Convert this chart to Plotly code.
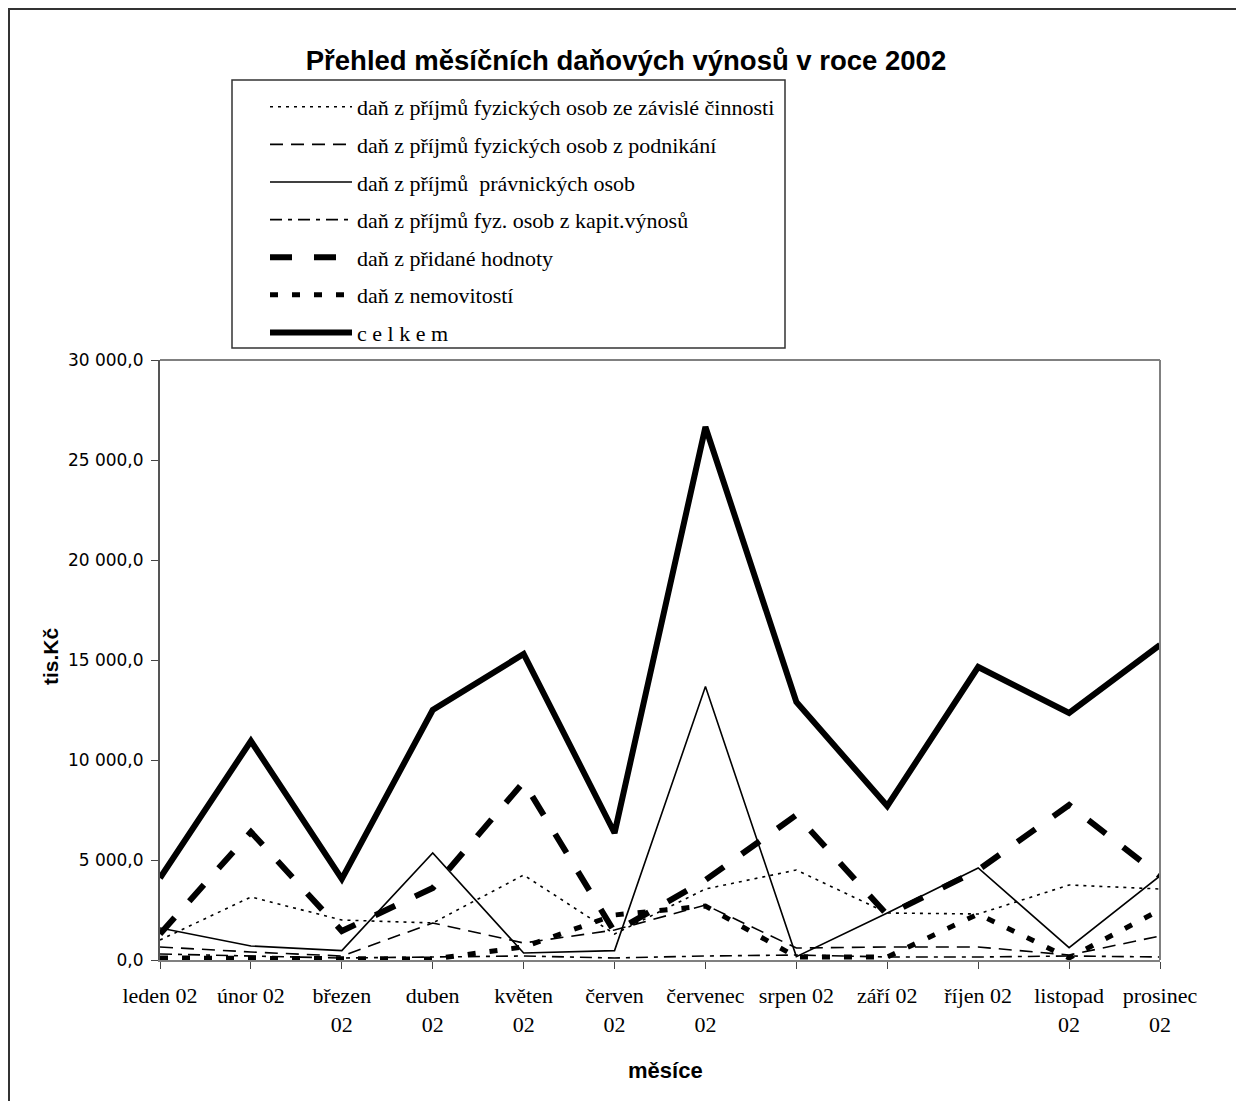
import plotly.graph_objects as go

months = ["leden 02", "únor 02", "březen<br>02", "duben<br>02", "květen<br>02", "červen<br>02",
          "červenec<br>02", "srpen 02", "září 02", "říjen 02", "listopad<br>02", "prosinec<br>02"]
month_keys = list(range(12))

zavisla = [1000, 3150, 2000, 1850, 4250, 1300, 3550, 4500, 2350, 2300, 3750, 3550]
podnikani = [650, 400, 200, 1850, 850, 1500, 2750, 600, 650, 650, 250, 1200]
pravnicke = [1600, 700, 470, 5350, 350, 470, 13670, 170, 2350, 4600, 620, 4200]
kapital = [300, 200, 100, 150, 200, 100, 200, 250, 150, 150, 200, 150]
dph = [1300, 6400, 1450, 3600, 8900, 1400, 4000, 7250, 2250, 4500, 7750, 4200]
nemovitosti = [100, 100, 50, 50, 650, 2250, 2700, 150, 150, 2300, 100, 2500]
celkem = [4100, 10950, 4050, 12500, 15300, 6350, 26650, 12900, 7700, 14650, 12350, 15750]

names = [
    "daň z příjmů fyzických osob ze závislé činnosti",
    "daň z příjmů fyzických osob z podnikání",
    "daň z příjmů  právnických osob",
    "daň z příjmů fyz. osob z kapit.výnosů",
    "daň z přidané hodnoty",
    "daň z nemovitostí",
    "c e l k e m",
]
series = [zavisla, podnikani, pravnicke, kapital, dph, nemovitosti, celkem]
styles = [
    dict(width=1.6, dash="3px,5px"),
    dict(width=1.6, dash="13px,8px"),
    dict(width=1.6, dash="solid"),
    dict(width=1.6, dash="12px,6px,4px,6px"),
    dict(width=6, dash="22px,22px"),
    dict(width=5, dash="8px,14px"),
    dict(width=6, dash="solid"),
]

# the page body has an 8px margin: the figure starts at screen (8, 8)
OFF = 8
W, H = 1244 - OFF, 1101 - OFF
PL, PR, PT, PB = 160, 1160, 360, 960  # plot area in screen px


def px(xs):
    return (xs - PL) / (PR - PL)


def py(ys):
    return (PB - ys) / (PB - PT)


fig = go.Figure()
for i, (nm, ys, st) in enumerate(zip(names, series, styles)):
    fig.add_trace(go.Scatter(
        x=month_keys, y=ys, name=nm, mode="lines",
        line=dict(color="black", width=st["width"], dash=st["dash"]),
        legendgroup=f"g{i}",
    ))

fig.update_layout(
    width=W, height=H,
    paper_bgcolor="white", plot_bgcolor="white",
    margin=dict(l=PL - OFF, r=W - (PR - OFF), t=PT - OFF, b=H - (PB - OFF)),
    separators=", ",
    title=dict(text="<b>Přehled měsíčních daňových výnosů v roce 2002</b>",
               x=(626 - OFF) / W, xref="container", xanchor="center",
               y=1 - (60 - OFF) / H, yref="container", yanchor="middle",
               font=dict(family="Liberation Sans, Arial", size=27.5, color="black")),
    showlegend=True,
    legend=dict(
        x=px(265), y=py(86), xanchor="left", yanchor="top",
        bgcolor="rgba(0,0,0,0)", borderwidth=0,
        font=dict(family="Liberation Serif, DejaVu Serif, serif", size=22, color="black"),
        tracegroupgap=6, itemwidth=82,
    ),
    xaxis=dict(
        type="linear", range=[0, 11], tickmode="array", tickvals=month_keys, ticktext=months,
        showgrid=False, zeroline=False, showline=True, linecolor="#808080", linewidth=2,
        ticks="outside", ticklen=7, tickcolor="#444", ticklabelstandoff=8,
        tickfont=dict(family="Liberation Serif, DejaVu Serif, serif", size=22, color="black"),
    ),
    yaxis=dict(
        range=[0, 30000], tickmode="linear", tick0=0, dtick=5000, tickformat=",.1f",
        showgrid=False, zeroline=False, showline=True, linecolor="#555", linewidth=2,
        ticks="outside", ticklen=7, tickcolor="#444", ticklabelstandoff=4,
        tickfont=dict(family="DejaVu Sans, Verdana", size=17, color="black"),
    ),
    annotations=[
        dict(text="<b>tis.Kč</b>", xref="paper", yref="paper", x=px(50), y=py(656),
             textangle=-90, showarrow=False, xanchor="center", yanchor="middle",
             font=dict(family="Liberation Sans, Arial", size=21, color="black")),
        dict(text="<b>měsíce</b>", xref="paper", yref="paper", x=px(665), y=py(1070),
             showarrow=False, xanchor="center", yanchor="middle",
             font=dict(family="Liberation Sans, Arial", size=22, color="black")),
    ],
    shapes=[
        # outer chart border
        dict(type="rect", xref="paper", yref="paper",
             x0=px(9), x1=px(1237), y0=py(1115), y1=py(9),
             line=dict(color="#333", width=2), layer="below"),
        # legend box
        dict(type="rect", xref="paper", yref="paper",
             x0=px(232), x1=px(785), y0=py(348), y1=py(80),
             line=dict(color="#333", width=1.5), layer="below"),
        # plot area frame top/right
        dict(type="line", xref="paper", yref="paper", x0=0, x1=1, y0=1, y1=1,
             line=dict(color="#808080", width=2)),
        dict(type="line", xref="paper", yref="paper", x0=1, x1=1, y0=0, y1=1,
             line=dict(color="#808080", width=2)),
    ],
)

fig.write_html("out.html")
